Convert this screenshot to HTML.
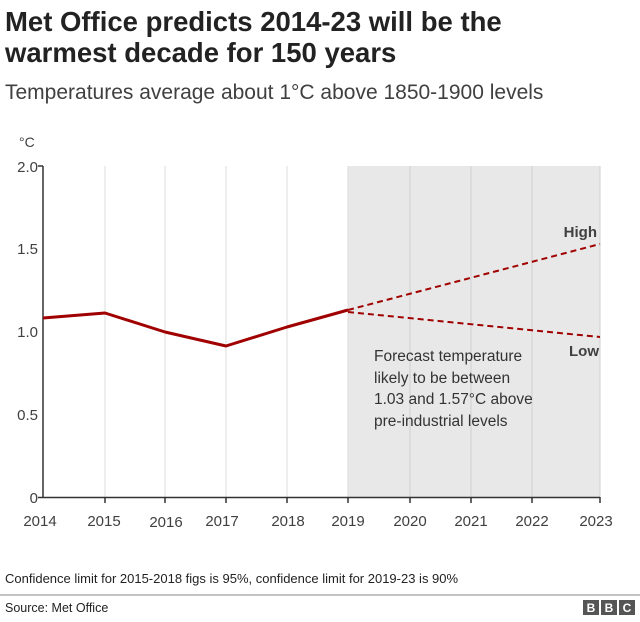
<!DOCTYPE html>
<html><head><style>
body{margin:0;background:#fff;font-family:"Liberation Sans",Arial,sans-serif;}
</style></head><body>
<svg width="640" height="617" xmlns="http://www.w3.org/2000/svg" font-family="Liberation Sans, Arial, sans-serif">
<text x="5" y="31" font-size="27.5" font-weight="bold" fill="#222">Met Office predicts 2014-23 will be the</text>
<text x="5" y="62" font-size="27.5" font-weight="bold" fill="#222">warmest decade for 150 years</text>
<text x="5" y="99" font-size="21" fill="#404040">Temperatures average about 1°C above 1850-1900 levels</text>
<rect x="348" y="166" width="252" height="331" fill="#e8e8e8"/>
<g stroke="#dcdcdc" stroke-width="1">
<line x1="105" y1="166" x2="105" y2="497"/><line x1="165" y1="166" x2="165" y2="497"/>
<line x1="226" y1="166" x2="226" y2="497"/><line x1="287" y1="166" x2="287" y2="497"/>
<line x1="348" y1="166" x2="348" y2="497"/>
</g>
<g stroke="#cfcfcf" stroke-width="1">
<line x1="410" y1="166" x2="410" y2="497"/><line x1="471" y1="166" x2="471" y2="497"/>
<line x1="532" y1="166" x2="532" y2="497"/><line x1="600" y1="166" x2="600" y2="497"/>
</g>
<g stroke="#333" stroke-width="1.5">
<line x1="43" y1="166" x2="43" y2="498"/><line x1="38" y1="166" x2="43" y2="166"/>
<line x1="38" y1="497.5" x2="600" y2="497.5"/>
<line x1="105" y1="497" x2="105" y2="503"/><line x1="165" y1="497" x2="165" y2="503"/>
<line x1="226" y1="497" x2="226" y2="503"/><line x1="287" y1="497" x2="287" y2="503"/>
<line x1="348" y1="497" x2="348" y2="503"/><line x1="410" y1="497" x2="410" y2="503"/>
<line x1="471" y1="497" x2="471" y2="503"/><line x1="532" y1="497" x2="532" y2="503"/>
<line x1="600" y1="497" x2="600" y2="503"/>
</g>
<g font-size="15" fill="#404040" text-anchor="end">
<text x="38" y="172">2.0</text><text x="38" y="254">1.5</text><text x="38" y="337">1.0</text>
<text x="38" y="420">0.5</text><text x="38" y="503">0</text>
</g>
<text x="19" y="147" font-size="14" fill="#404040">°C</text>
<g font-size="15" fill="#404040" text-anchor="middle">
<text x="40" y="526">2014</text><text x="104" y="526">2015</text><text x="166" y="527">2016</text>
<text x="222" y="526">2017</text><text x="288" y="526">2018</text><text x="348" y="526">2019</text>
<text x="410" y="526">2020</text><text x="471" y="526">2021</text><text x="532" y="526">2022</text>
<text x="596" y="526">2023</text>
</g>
<polyline points="43,318 105,313 165,332 226,346 287,327 348,310" fill="none" stroke="#a00000" stroke-width="3" stroke-linejoin="round"/>
<line x1="348" y1="310" x2="600" y2="244" stroke="#a00000" stroke-width="2" stroke-dasharray="6,4"/>
<line x1="348" y1="312" x2="600" y2="337" stroke="#a00000" stroke-width="2" stroke-dasharray="6,4"/>
<text x="597" y="237" font-size="15" font-weight="bold" fill="#404040" text-anchor="end">High</text>
<text x="599" y="356" font-size="15" font-weight="bold" fill="#404040" text-anchor="end">Low</text>
<g font-size="15.5" fill="#333">
<text x="374" y="361">Forecast temperature</text><text x="374" y="383">likely to be between</text>
<text x="374" y="404">1.03 and 1.57°C above</text><text x="374" y="426">pre-industrial levels</text>
</g>
<text x="5" y="583" font-size="13" fill="#222">Confidence limit for 2015-2018 figs is 95%, confidence limit for 2019-23 is 90%</text>
<line x1="0" y1="595" x2="640" y2="595" stroke="#888" stroke-width="1"/>
<text x="5" y="612" font-size="12.5" fill="#222">Source: Met Office</text>
<g font-size="12" font-weight="bold" fill="#fff" text-anchor="middle">
<rect x="583" y="600" width="16" height="15" fill="#555"/><text x="591" y="612">B</text>
<rect x="601" y="600" width="16" height="15" fill="#555"/><text x="609" y="612">B</text>
<rect x="619" y="600" width="16" height="15" fill="#555"/><text x="627" y="612">C</text>
</g>
</svg>
</body></html>
